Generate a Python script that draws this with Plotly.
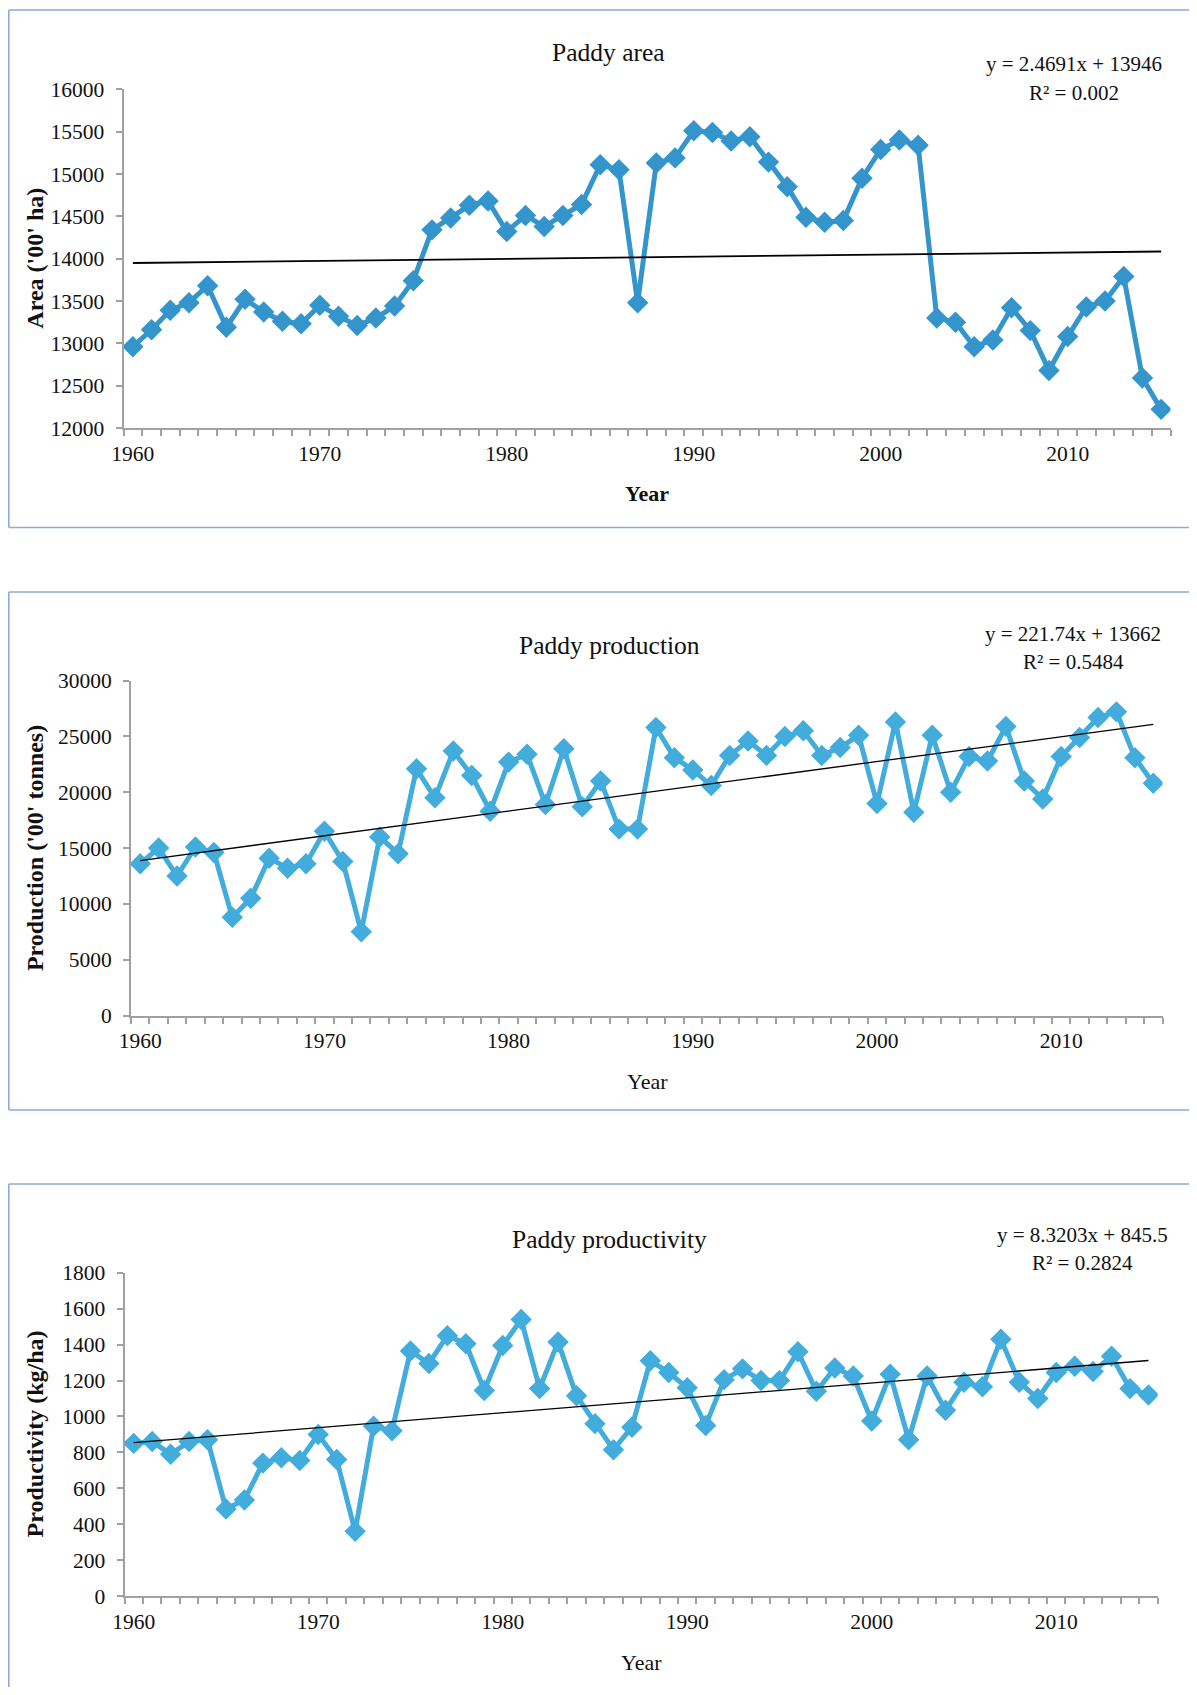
import plotly.graph_objects as go

# ---------------- data ----------------
YEARS = list(range(1960, 2016))

AREA = [12960, 13160, 13390, 13480, 13680, 13190, 13520, 13370, 13260, 13230,
        13450, 13320, 13210, 13300, 13440, 13740, 14340, 14480, 14630, 14680,
        14320, 14510, 14380, 14510, 14640, 15110, 15050, 13480, 15130, 15190,
        15510, 15490, 15390, 15440, 15140, 14850, 14490, 14430, 14450, 14950,
        15290, 15400, 15340, 13300, 13250, 12960, 13040, 13420, 13150, 12680,
        13080, 13430, 13500, 13790, 12590, 12220]

PRODUCTION = [13600, 15000, 12500, 15100, 14600, 8800, 10500, 14100, 13200, 13600,
              16500, 13800, 7500, 16000, 14500, 22100, 19500, 23700, 21500, 18300,
              22700, 23400, 18900, 23900, 18700, 21000, 16700, 16700, 25800, 23100,
              22000, 20600, 23300, 24600, 23300, 25000, 25500, 23300, 24000, 25100,
              19000, 26300, 18200, 25100, 20000, 23200, 22800, 25900, 21000, 19400,
              23200, 24900, 26700, 27200, 23100, 20800]

PRODUCTIVITY = [850, 860, 790, 860, 870, 485, 535, 740, 770, 755,
                900, 760, 360, 945, 920, 1365, 1295, 1450, 1405, 1145,
                1395, 1540, 1155, 1415, 1115, 960, 815, 940, 1310, 1245,
                1160, 950, 1205, 1265, 1200, 1200, 1360, 1140, 1270, 1225,
                975, 1235, 870, 1225, 1035, 1190, 1165, 1430, 1190, 1100,
                1245, 1280, 1250, 1335, 1155, 1120]

X_TICK_YEARS = [1960, 1970, 1980, 1990, 2000, 2010]
X_TICK_LABELS = ["1960", "1970", "1980", "1990", "2000", "2010"]

TITLES = ["Paddy area", "Paddy production", "Paddy productivity"]
Y_TITLES = ["Area ('00' ha)", "Production ('00' tonnes)", "Productivity (kg/ha)"]
X_TITLE = "Year"

TREND_SLOPES = [2.4691, 221.74, 8.3203]
TREND_INTERCEPTS = [13946, 13662, 845.5]
R_SQUARED = ["0.002", "0.5484", "0.2824"]

Y_RANGES = [[12000, 16000], [0, 30000], [0, 1800]]
Y_DTICKS = [500, 5000, 200]

SERIES = [AREA, PRODUCTION, PRODUCTIVITY]

# ---------------- layout constants ----------------
PAGE_W, PAGE_H = 1197, 1695
BODY_MARGIN = 8                     # default page margin around the figure
W, H = PAGE_W - 2 * BODY_MARGIN, PAGE_H - 2 * BODY_MARGIN
FONT = "Liberation Serif"
AXIS_GRAY = "#A0A0A0"
BOX_COLOR = "#8EA9DB"
LINE_COLORS = ["#3495CD", "#42ACDD", "#42ACDD"]
TREND_WIDTHS = [1.8, 1.3, 1.3]

PANELS = [(123.5, 1170.5, 89.3, 428.0),
          (131.0, 1162.5, 680.6, 1015.6),
          (124.5, 1157.7, 1272.8, 1596.0)]
BOXES = [(8.8, 10, 527.5), (8.8, 592, 1110), (8.8, 1184, None)]
TITLE_POS = [(608, 53), (609, 646), (609, 1239)]
EQ_POS = [(1074, 64, 92.5), (1073, 634, 662), (1082, 1235, 1263)]
XTITLE_POS = [(647, 494), (647, 1081), (642, 1662)]
YTITLE_X = 35
XTITLE_BOLD = [True, False, False]


def px(x):
    return (x - BODY_MARGIN) / W


def py(y):
    return 1 - (y - BODY_MARGIN) / H


fig = go.Figure()
annotations = []
shapes = []
layout_axes = {}

for i in range(3):
    n = "" if i == 0 else str(i + 1)
    xa, ya = "x" + n, "y" + n
    vals = SERIES[i]
    fig.add_trace(go.Scatter(
        x=YEARS, y=vals, mode="lines+markers", xaxis=xa, yaxis=ya,
        line=dict(color=LINE_COLORS[i], width=5),
        marker=dict(symbol="diamond", size=16.5, color=LINE_COLORS[i],
                    line=dict(width=0)),
        showlegend=False, hoverinfo="x+y"))
    idx = list(range(1, len(YEARS) + 1))
    trend = [TREND_SLOPES[i] * k + TREND_INTERCEPTS[i] for k in idx]
    fig.add_trace(go.Scatter(
        x=[YEARS[0], YEARS[-1]], y=[trend[0], trend[-1]], mode="lines",
        xaxis=xa, yaxis=ya, line=dict(color="black", width=TREND_WIDTHS[i]),
        showlegend=False, hoverinfo="skip"))

    l, r, t, b = PANELS[i]
    boundaries = [YEARS[0] - 0.5 + k for k in range(len(YEARS) + 1)]
    layout_axes["xaxis" + n] = dict(
        domain=[px(l), px(r)], anchor=ya, automargin=False,
        range=[YEARS[0] - 0.5, YEARS[-1] + 0.5],
        showline=True, linecolor=AXIS_GRAY, linewidth=1.8,
        showgrid=False, zeroline=False,
        tickmode="array", tickvals=X_TICK_YEARS, ticktext=X_TICK_LABELS,
        ticks="", ticklabelstandoff=5,
        minor=dict(tickmode="array", tickvals=boundaries, ticks="outside",
                   ticklen=6, tickcolor=AXIS_GRAY, tickwidth=1.5, showgrid=False),
        tickfont=dict(family=FONT, size=21.5, color="#111"),
        fixedrange=True)
    layout_axes["yaxis" + n] = dict(
        domain=[py(b), py(t)], anchor=xa, automargin=False,
        range=Y_RANGES[i], dtick=Y_DTICKS[i], tick0=Y_RANGES[i][0],
        tickformat="d",
        showline=True, linecolor=AXIS_GRAY, linewidth=1.8,
        showgrid=False, zeroline=False,
        ticks="outside", ticklen=6, tickcolor=AXIS_GRAY, tickwidth=1.5,
        ticklabelstandoff=7,
        tickfont=dict(family=FONT, size=21.5, color="#111"),
        fixedrange=True)

    bx, btop, bbot = BOXES[i]
    bottom_y = PAGE_H if bbot is None else bbot
    frame = [(bx, btop, PAGE_W, btop), (bx, btop, bx, bottom_y)]
    if bbot is not None:
        frame.append((bx, bbot, PAGE_W, bbot))
    for (fx0, fy0, fx1, fy1) in frame:
        shapes.append(dict(type="line", xref="paper", yref="paper",
                           x0=max(0, px(fx0)), x1=min(1, px(fx1)),
                           y0=min(1, max(0, py(fy0))), y1=min(1, max(0, py(fy1))),
                           line=dict(color=BOX_COLOR, width=1.6), layer="below"))

    tx, ty = TITLE_POS[i]
    annotations.append(dict(text=TITLES[i], x=px(tx), y=py(ty), xref="paper",
                            yref="paper", showarrow=False, xanchor="center",
                            yanchor="middle",
                            font=dict(family=FONT, size=25.5, color="#111")))
    ex, ey1, ey2 = EQ_POS[i]
    eq = f"y = {TREND_SLOPES[i]:g}x + {TREND_INTERCEPTS[i]:g}"
    annotations.append(dict(text=eq, x=px(ex), y=py(ey1), xref="paper",
                            yref="paper", showarrow=False, xanchor="center",
                            yanchor="middle",
                            font=dict(family=FONT, size=21, color="#111")))
    annotations.append(dict(text=f"R² = {R_SQUARED[i]}", x=px(ex), y=py(ey2),
                            xref="paper", yref="paper", showarrow=False,
                            xanchor="center", yanchor="middle",
                            font=dict(family=FONT, size=21, color="#111")))
    xx, xy = XTITLE_POS[i]
    xt = f"<b>{X_TITLE}</b>" if XTITLE_BOLD[i] else X_TITLE
    annotations.append(dict(text=xt, x=px(xx), y=py(xy), xref="paper",
                            yref="paper", showarrow=False, xanchor="center",
                            yanchor="middle",
                            font=dict(family=FONT, size=22, color="#111")))
    annotations.append(dict(text=f"<b>{Y_TITLES[i]}</b>", x=px(YTITLE_X),
                            y=py((t + b) / 2), xref="paper", yref="paper",
                            showarrow=False, xanchor="center", yanchor="middle",
                            textangle=-90,
                            font=dict(family=FONT, size=24, color="#111")))

fig.update_layout(
    template="none",
    width=W, height=H,
    margin=dict(l=0, r=0, t=0, b=0, pad=0, autoexpand=False),
    paper_bgcolor="white", plot_bgcolor="white",
    showlegend=False, annotations=annotations, shapes=shapes,
    **layout_axes)

fig.write_html("out.html", config={"displayModeBar": False})
